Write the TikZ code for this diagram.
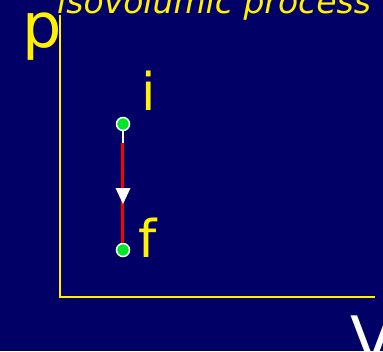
\documentclass[tikz,border=0pt]{standalone}
\usepackage{fontspec}
\setmainfont{DejaVu Sans}
\definecolor{bgnavy}{RGB}{0,0,102}
\definecolor{ptgreen}{RGB}{0,230,40}
\begin{document}
\begin{tikzpicture}[x=1pt,y=-1pt,
  lbl/.style={text=yellow,inner sep=0pt,anchor=base west},
  axis/.style={draw=yellow,line width=2pt},
  state/.style={circle,fill=ptgreen,draw=white,line width=1.5pt,minimum size=13pt,inner sep=0pt}]
\useasboundingbox (0,0) rectangle (383,351);
\clip (0,0) rectangle (383,351);
\fill[bgnavy] (0,0) rectangle (383,351);
% title
\node[lbl,font=\fontsize{33}{33}\selectfont\itshape] (title) at (57,13) {isovolumic process};
% axes
\coordinate (top) at (60,15);
\coordinate (origin) at (60,297);
\coordinate (right) at (375,297);
\draw[axis] (top) -- (origin) -- (right);
\node[lbl,font=\fontsize{62}{62}\selectfont] (p) at (22,47) {p};
\node[text=white,inner sep=0pt,anchor=base west,font=\fontsize{64}{64}\selectfont] (v) at (350,362) {V};
% states
\node[state] (i) at (123,124) {};
\node[state] (f) at (123,250) {};
\node[lbl,font=\fontsize{52}{52}\selectfont] (il) at (141,110) {i};
\node[lbl,font=\fontsize{52}{52}\selectfont] (fl) at (138,257) {f};
% process line
\coordinate (redstart) at (122.5,143);
\draw[white,line width=2.5pt] (i) -- (redstart -| i);
\draw[red,line width=2.5pt] (redstart) -- (f.north -| redstart);
\coordinate (tip) at (123,204);
\fill[white] (tip) -- (115.5,188) -- (130.5,188) -- cycle;
\end{tikzpicture}
\end{document}
